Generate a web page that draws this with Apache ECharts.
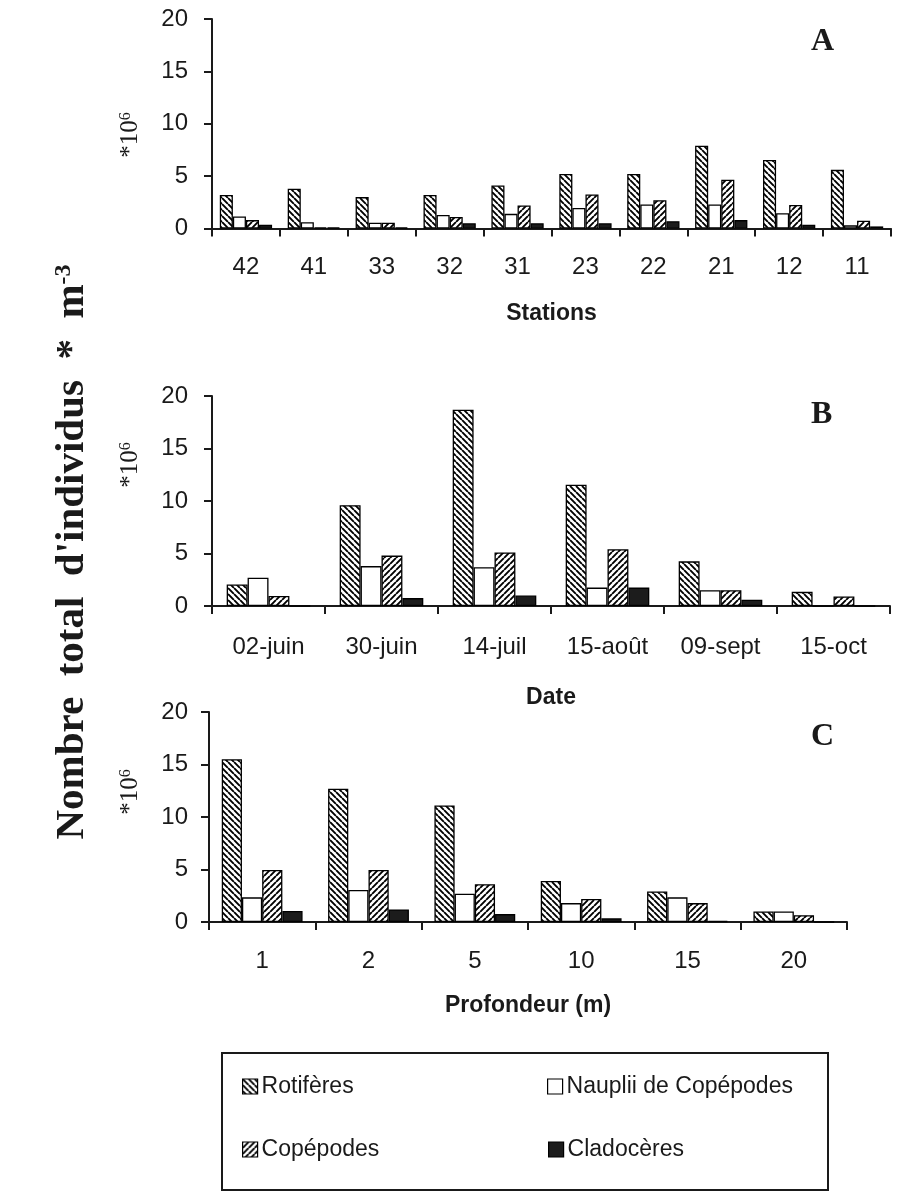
<!DOCTYPE html>
<html>
<head>
<meta charset="utf-8">
<script src="https://cdn.jsdelivr.net/npm/echarts@6/dist/echarts.min.js"></script>
<style>html,body{margin:0;padding:0;background:#fff}#c{width:898px;height:1194px}</style>
</head>
<body>
<div id="c"></div>
<script>
// ---- data ----
const stationsA = ['42','41','33','32','31','23','22','21','12','11'];
const A_rot  = [3.2, 3.8, 3.0, 3.2, 4.1, 5.2, 5.2, 7.9, 6.55, 5.6];
const A_naup = [1.15, 0.6, 0.55, 1.3, 1.4, 1.95, 2.3, 2.3, 1.45, 0.3];
const A_cop  = [0.8, 0.1, 0.55, 1.1, 2.2, 3.25, 2.7, 4.65, 2.25, 0.75];
const A_clad = [0.35, 0.1, 0.1, 0.5, 0.5, 0.5, 0.7, 0.8, 0.35, 0.2];

const datesB = ['02-juin','30-juin','14-juil','15-août','09-sept','15-oct'];
const B_rot  = [2.05, 9.6, 18.7, 11.55, 4.25, 1.35];
const B_naup = [2.7, 3.8, 3.7, 1.75, 1.5, 0];
const B_cop  = [0.95, 4.8, 5.1, 5.4, 1.5, 0.9];
const B_clad = [0, 0.75, 1.0, 1.75, 0.6, 0];

const depthC = ['1','2','5','10','15','20'];
const C_rot  = [15.5, 12.7, 11.1, 3.9, 2.9, 1.0];
const C_naup = [2.35, 3.05, 2.7, 1.8, 2.35, 1.0];
const C_cop  = [4.95, 4.95, 3.6, 2.2, 1.8, 0.65];
const C_clad = [1.05, 1.2, 0.75, 0.35, 0.1, 0];

const seriesNames = ['Rotifères', 'Nauplii de Copépodes', 'Copépodes', 'Cladocères'];
const yTicks = {min: 0, max: 20, interval: 5};

// ---- patterns ----
function stripes(back) {
  const s = 6;
  const c = document.createElement('canvas');
  c.width = s; c.height = s;
  const g = c.getContext('2d');
  g.fillStyle = '#fff'; g.fillRect(0, 0, s, s);
  g.strokeStyle = '#000'; g.lineWidth = 1.9;
  g.beginPath();
  for (let k = -1; k <= 1; k++) {
    if (back) { g.moveTo(k * s, 0); g.lineTo(k * s + s, s); }
    else { g.moveTo(k * s, s); g.lineTo(k * s + s, 0); }
  }
  g.stroke();
  return {image: c, repeat: 'repeat'};
}
const fills = [stripes(true), '#fff', stripes(false), '#1c1c1c'];

const SANS = 'Liberation Sans, Arial, sans-serif';
const SERIF = 'Liberation Serif, Times New Roman, serif';
const ink = '#1a1a1a';

const panels = [
  {cats: stationsA, data: [A_rot, A_naup, A_cop, A_clad], name: 'Stations', grid: {left: 212, right: 7, top: 19, height: 209.5}, gap: '23%', nameGap: 74, labelMargin: 27, yMargin: 24},
  {cats: datesB, data: [B_rot, B_naup, B_cop, B_clad], name: 'Date', grid: {left: 212, right: 8, top: 396, height: 210}, gap: '26%', nameGap: 80, labelMargin: 29, yMargin: 24},
  {cats: depthC, data: [C_rot, C_naup, C_cop, C_clad], name: 'Profondeur (m)', grid: {left: 209, right: 51, top: 712, height: 210}, gap: '24%', nameGap: 72, labelMargin: 27, yMargin: 21}
];

const grid = [], xAxis = [], yAxis = [], series = [];
panels.forEach((p, i) => {
  grid.push(Object.assign({containLabel: false}, p.grid));
  xAxis.push({
    type: 'category', gridIndex: i, data: p.cats,
    name: p.name, nameLocation: 'middle', nameGap: p.nameGap,
    nameTextStyle: {fontFamily: SANS, fontWeight: 'bold', fontSize: 23, color: ink},
    axisLine: {lineStyle: {color: ink, width: 2}},
    axisTick: {show: true, length: 8, lineStyle: {color: ink, width: 2}},
    axisLabel: {margin: p.labelMargin, fontFamily: SANS, fontSize: 24, color: ink}
  });
  yAxis.push({
    type: 'value', gridIndex: i, min: yTicks.min, max: yTicks.max, interval: yTicks.interval,
    splitLine: {show: false},
    axisLine: {show: true, lineStyle: {color: ink, width: 2}},
    axisTick: {show: true, length: 8, lineStyle: {color: ink, width: 2}},
    axisLabel: {margin: p.yMargin, fontFamily: SANS, fontSize: 24, color: ink}
  });
  seriesNames.forEach((n, k) => {
    series.push({
      type: 'bar', name: n, xAxisIndex: i, yAxisIndex: i,
      data: p.data[k], barGap: 0, barCategoryGap: p.gap,
      itemStyle: {color: fills[k], borderColor: '#000', borderWidth: 1.3},
      emphasis: {disabled: true}, animation: false
    });
  });
});

function legendItem(name, left, top) {
  return {
    data: [name], left: left, top: top, padding: 0, icon: 'rect',
    itemWidth: 15, itemHeight: 15, itemGap: 0, selectedMode: false,
    itemStyle: {borderColor: '#000', borderWidth: 1.2},
    textStyle: {fontFamily: SANS, fontSize: 23, color: ink, padding: [0, 0, 0, -1]}
  };
}

const chart = echarts.init(document.getElementById('c'), null, {renderer: 'canvas'});
chart.setOption({
  animation: false,
  backgroundColor: '#fff',
  grid, xAxis, yAxis, series,
  legend: [
    legendItem('Rotifères', 242, 1075),
    legendItem('Nauplii de Copépodes', 547, 1075),
    legendItem('Copépodes', 242, 1138),
    legendItem('Cladocères', 548, 1138)
  ],
  graphic: [
    {type: 'rect', shape: {x: 222, y: 1053, width: 606, height: 137}, style: {fill: 'none', stroke: ink, lineWidth: 2}, silent: true},
    {type: 'text', x: 72, y: 552, rotation: Math.PI / 2, silent: true,
      style: {text: "{a|Nombre  total  d'individus  *  m}{s|-3}", align: 'center', verticalAlign: 'middle',
        rich: {a: {fontFamily: SERIF, fontWeight: 'bold', fontSize: 41, fill: ink}, s: {fontFamily: SERIF, fontWeight: 'bold', fontSize: 24, verticalAlign: 'top', fill: ink}}}},
    ...[[135], [465], [792]].map(([y]) => ({type: 'text', x: 130, y: y, rotation: Math.PI / 2, silent: true,
      style: {text: '{a|*10}{s|6}', align: 'center', verticalAlign: 'middle',
        rich: {a: {fontFamily: SERIF, fontSize: 25, fill: ink}, s: {fontFamily: SERIF, fontSize: 16, verticalAlign: 'top', fill: ink}}}})),
    ...[['A', 42], ['B', 415], ['C', 737]].map(([t, y]) => ({type: 'text', x: 811, y: y, silent: true,
      style: {text: t, font: 'bold 32px ' + SERIF, fill: ink, align: 'left', verticalAlign: 'middle'}}))
  ]
});
</script>
</body>
</html>
